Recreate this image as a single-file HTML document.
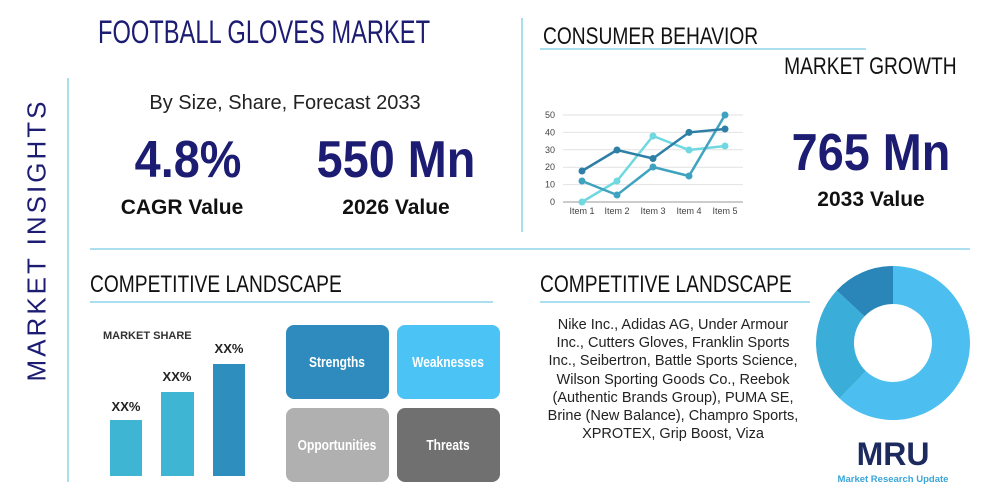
<!DOCTYPE html>
<html><head><style>
body{margin:0;width:1000px;height:500px;background:#fff;position:relative;overflow:hidden;font-family:"Liberation Sans",sans-serif}
.a{position:absolute;white-space:nowrap}
.cond{transform-origin:left center;display:inline-block}
.navy{color:#1c1c72}
</style></head><body>
<svg class="a" style="left:0;top:0" width="1000" height="500">
<line x1="68" y1="78" x2="68" y2="482" stroke="#8fd3e8" stroke-width="1.5"/>
<line x1="522" y1="18" x2="522" y2="232" stroke="#8fd3e8" stroke-width="1.5"/>
<line x1="90" y1="249" x2="970" y2="249" stroke="#8fd3e8" stroke-width="1.5"/>
<line x1="540" y1="49" x2="866" y2="49" stroke="#8fd3e8" stroke-width="1.5"/>
<line x1="90" y1="302" x2="493" y2="302" stroke="#8fd3e8" stroke-width="1.5"/>
<line x1="540" y1="302" x2="810" y2="302" stroke="#8fd3e8" stroke-width="1.5"/>
<g stroke="#e2e2e2" stroke-width="1">
<line x1="563" y1="115" x2="743" y2="115"/><line x1="563" y1="132.4" x2="743" y2="132.4"/><line x1="563" y1="149.8" x2="743" y2="149.8"/><line x1="563" y1="167.2" x2="743" y2="167.2"/><line x1="563" y1="184.6" x2="743" y2="184.6"/>
</g>
<line x1="563" y1="202" x2="743" y2="202" stroke="#999"/>
<g font-size="9" fill="#444" text-anchor="end" font-family="Liberation Sans">
<text x="555" y="118">50</text><text x="555" y="135.4">40</text><text x="555" y="152.8">30</text><text x="555" y="170.2">20</text><text x="555" y="187.6">10</text><text x="555" y="205">0</text>
</g>
<g font-size="9" fill="#444" text-anchor="middle">
<text x="582" y="214">Item 1</text><text x="617" y="214">Item 2</text><text x="653" y="214">Item 3</text><text x="689" y="214">Item 4</text><text x="725" y="214">Item 5</text>
</g>
<g stroke-width="2.5" fill="none">
<polyline stroke="#6fd8e0" points="582,202 617,181 653,136 689,150 725,146"/>
<polyline stroke="#3fa3c0" points="582,181 617,195 653,167 689,176 725,115"/>
<polyline stroke="#2e7fa6" points="582,171 617,150 653,158.5 689,132.4 725,129"/>
</g>
<g fill="#6fd8e0"><circle cx="582" cy="202" r="3.5"/><circle cx="617" cy="181" r="3.5"/><circle cx="653" cy="136" r="3.5"/><circle cx="689" cy="150" r="3.5"/><circle cx="725" cy="146" r="3.5"/></g>
<g fill="#3fa3c0"><circle cx="582" cy="181" r="3.5"/><circle cx="617" cy="195" r="3.5"/><circle cx="653" cy="167" r="3.5"/><circle cx="689" cy="176" r="3.5"/><circle cx="725" cy="115" r="3.5"/></g>
<g fill="#2e7fa6"><circle cx="582" cy="171" r="3.5"/><circle cx="617" cy="150" r="3.5"/><circle cx="653" cy="158.5" r="3.5"/><circle cx="689" cy="132.4" r="3.5"/><circle cx="725" cy="129" r="3.5"/></g>
<rect x="110" y="420" width="32" height="56" fill="#3eb5d3"/>
<rect x="161" y="392" width="33" height="84" fill="#3eb5d3"/>
<rect x="213" y="364" width="32" height="112" fill="#2e8fbf"/>
<g font-size="13" font-weight="bold" fill="#222" text-anchor="middle">
<text x="126" y="411">XX%</text><text x="177" y="381">XX%</text><text x="229" y="353">XX%</text>
</g>
<text x="103" y="339" font-size="11" font-weight="bold" fill="#333">MARKET SHARE</text>
<rect x="286" y="325" width="103" height="74" rx="8" fill="#2f8bbd"/>
<rect x="397" y="325" width="103" height="74" rx="8" fill="#4cc3f5"/>
<rect x="286" y="408" width="103" height="74" rx="8" fill="#b0b0b0"/>
<rect x="397" y="408" width="103" height="74" rx="8" fill="#707070"/>
<g font-size="15" fill="#fff" text-anchor="middle" font-weight="600">
<text x="337" y="367" transform="translate(337 0) scale(0.8 1) translate(-337 0)">Strengths</text>
<text x="448" y="367" transform="translate(448 0) scale(0.8 1) translate(-448 0)">Weaknesses</text>
<text x="337" y="450" transform="translate(337 0) scale(0.8 1) translate(-337 0)">Opportunities</text>
<text x="448" y="450" transform="translate(448 0) scale(0.8 1) translate(-448 0)">Threats</text>
</g>
<g transform="translate(893 343)">
<path d="M0,-77 A77,77 0 1 1 -53.5,55.4 L-27.1,28.1 A39,39 0 1 0 0,-39 Z" fill="#4cbff0"/>
<path d="M-53.5,55.4 A77,77 0 0 1 -56.3,-52.5 L-28.5,-26.6 A39,39 0 0 0 -27.1,28.1 Z" fill="#3aaed8"/>
<path d="M-56.3,-52.5 A77,77 0 0 1 0,-77 L0,-39 A39,39 0 0 0 -28.5,-26.6 Z" fill="#2a86b8"/>
</g>
<text x="893" y="465" font-size="32" font-weight="bold" fill="#1c2a5e" text-anchor="middle">MRU</text>
<text x="893" y="482" font-size="9.5" font-weight="bold" fill="#3aa6d8" text-anchor="middle">Market Research Update</text>
</svg>

<div class="a navy" style="left:98px;top:14px;font-size:32px;"><span class="cond" style="transform:scaleX(0.74)">FOOTBALL GLOVES MARKET</span></div>
<div class="a navy" style="left:37px;top:240px;font-size:26px;letter-spacing:3px;transform:translate(-50%,-50%) rotate(-90deg);">MARKET INSIGHTS</div>
<div class="a" style="left:285px;top:92px;font-size:20px;color:#222;transform:translateX(-50%)">By Size, Share, Forecast 2033</div>
<div class="a navy" style="left:188px;top:130px;font-size:52px;font-weight:bold;transform:translateX(-50%) scaleX(0.9)">4.8%</div>
<div class="a navy" style="left:396px;top:130px;font-size:52px;font-weight:bold;transform:translateX(-50%) scaleX(0.9)">550 Mn</div>
<div class="a" style="left:182px;top:196px;font-size:21px;font-weight:bold;color:#111;transform:translateX(-50%)">CAGR Value</div>
<div class="a" style="left:396px;top:196px;font-size:21px;font-weight:bold;color:#111;transform:translateX(-50%)">2026 Value</div>
<div class="a" style="left:543px;top:23px;font-size:24px;color:#111;"><span class="cond" style="transform:scaleX(0.8)">CONSUMER BEHAVIOR</span></div>
<div class="a" style="right:43px;top:53px;font-size:24px;color:#111;transform-origin:right center;transform:scaleX(0.8)">MARKET GROWTH</div>
<div class="a navy" style="left:871px;top:123px;font-size:52px;font-weight:bold;transform:translateX(-50%) scaleX(0.9)">765 Mn</div>
<div class="a" style="left:871px;top:188px;font-size:21px;font-weight:bold;color:#111;transform:translateX(-50%)">2033 Value</div>
<div class="a" style="left:90px;top:271px;font-size:24px;color:#111;"><span class="cond" style="transform:scaleX(0.8)">COMPETITIVE LANDSCAPE</span></div>
<div class="a" style="left:540px;top:271px;font-size:24px;color:#111;"><span class="cond" style="transform:scaleX(0.8)">COMPETITIVE LANDSCAPE</span></div>
<div class="a" style="left:673px;top:316px;font-size:14.5px;line-height:18.2px;color:#222;text-align:center;transform:translateX(-50%)">Nike Inc., Adidas AG, Under Armour<br>Inc., Cutters Gloves, Franklin Sports<br>Inc., Seibertron, Battle Sports Science,<br>Wilson Sporting Goods Co., Reebok<br>(Authentic Brands Group), PUMA SE,<br>Brine (New Balance), Champro Sports,<br>XPROTEX, Grip Boost, Viza</div>
</body></html>
